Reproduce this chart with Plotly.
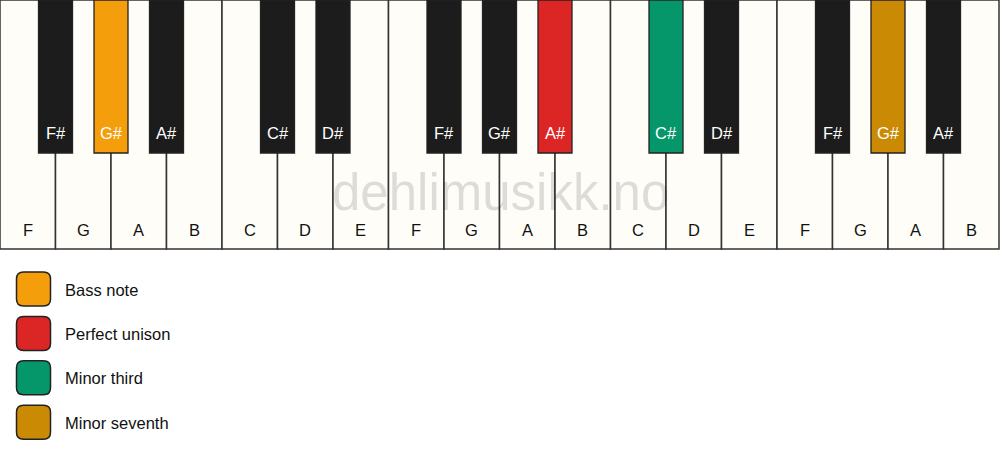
import plotly.graph_objects as go

# tangenter, fra venstre
white_keys = ["F", "G", "A", "B", "C", "D", "E", "F", "G", "A", "B", "C", "D", "E", "F", "G", "A", "B"]
black_keys = ["F#", "G#", "A#", "C#", "D#", "F#", "G#", "A#", "C#", "D#", "F#", "G#", "A#"]
# hvilken skillelinje mellom hvite tangenter hver svarte tangent sitter på
black_pos = [1, 2, 3, 5, 6, 8, 9, 10, 12, 13, 15, 16, 17]

# markerte svarte tangenter (indeks i black_keys) -> intervall
highlight = {1: "Bass note", 7: "Perfect unison", 8: "Minor third", 11: "Minor seventh"}

legend_labels = ["Bass note", "Perfect unison", "Minor third", "Minor seventh"]
legend_colors = ["#f59e0b", "#dc2626", "#059669", "#ca8a04"]

FONT = "Arial, Liberation Sans, sans-serif"
KEY_W = 999 / len(white_keys)
KB_H = 249
BK_W = 34
BK_H = 153
IVORY = "#fffdf8"
EDGE = "#333333"

fig = go.Figure()
shapes = []
annotations = []

# hvite tangenter
for i, name in enumerate(white_keys):
    x0 = i * KEY_W
    shapes.append(dict(type="rect", x0=x0, x1=x0 + KEY_W, y0=0, y1=KB_H,
                       fillcolor=IVORY, line=dict(color=EDGE, width=1.5), layer="above"))
    annotations.append(dict(x=x0 + KEY_W / 2, y=230, text=name, showarrow=False,
                            font=dict(family=FONT, size=16.5, color="#111111")))

# vannmerke
annotations.append(dict(x=500, y=192, text="dehlimusikk.no", showarrow=False,
                        font=dict(family=FONT, size=51, color="rgba(0,0,0,0.13)")))

# svarte tangenter
color_of = dict(zip(legend_labels, legend_colors))
for j, name in enumerate(black_keys):
    cx = black_pos[j] * KEY_W
    fill = color_of[highlight[j]] if j in highlight else "#1c1c1c"
    shapes.append(dict(type="rect", x0=cx - BK_W / 2, x1=cx + BK_W / 2, y0=0, y1=BK_H,
                       fillcolor=fill, line=dict(color="#222222", width=1.3), layer="above"))
    annotations.append(dict(x=cx, y=133, text=name, showarrow=False,
                            font=dict(family=FONT, size=16.5, color="white")))


def rounded_square(x0, y0, size, r):
    x1, y1 = x0 + size, y0 + size
    return (f"M {x0 + r},{y0} L {x1 - r},{y0} Q {x1},{y0} {x1},{y0 + r} "
            f"L {x1},{y1 - r} Q {x1},{y1} {x1 - r},{y1} L {x0 + r},{y1} "
            f"Q {x0},{y1} {x0},{y1 - r} L {x0},{y0 + r} Q {x0},{y0} {x0 + r},{y0} Z")


# forklaring
for k, (label, col) in enumerate(zip(legend_labels, legend_colors)):
    top = 272 + k * 44.4
    shapes.append(dict(type="path", path=rounded_square(16.5, top, 34, 7),
                       fillcolor=col, line=dict(color="#222222", width=1.5), layer="above"))
    annotations.append(dict(x=62.5, y=top + 17.5, text=label, showarrow=False, xanchor="left",
                            font=dict(family=FONT, size=16.5, color="#111111")))

fig.update_layout(
    width=1000, height=461,
    margin=dict(l=0, r=0, t=0, b=0),
    paper_bgcolor="white", plot_bgcolor="white",
    xaxis=dict(range=[0, 1000], visible=False, fixedrange=True),
    yaxis=dict(range=[461, 0], visible=False, fixedrange=True),
    shapes=shapes, annotations=annotations, showlegend=False,
)

# siden har 8px marg i body som standard
fig.write_html("out.html", config={"displayModeBar": False},
               post_script="document.body.style.margin='0';")
